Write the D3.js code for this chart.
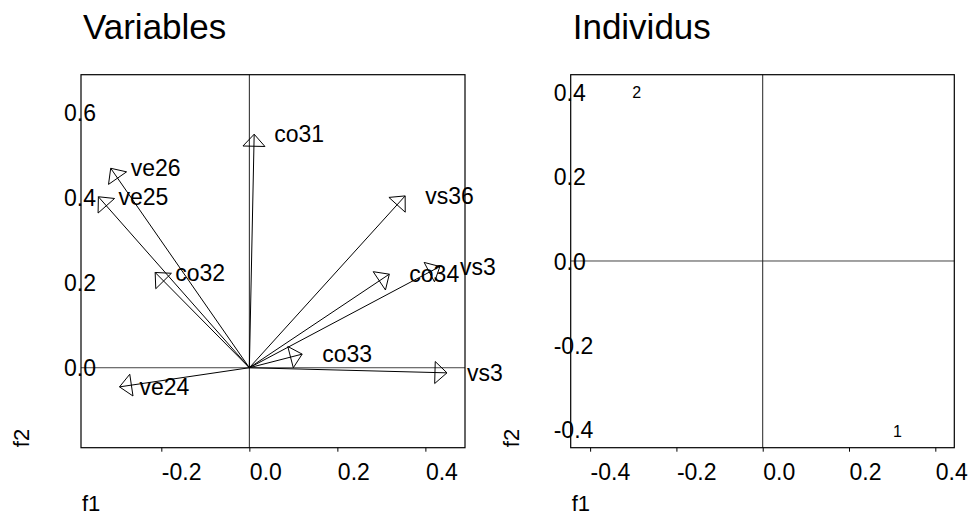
<!DOCTYPE html>
<html>
<head>
<meta charset="utf-8">
<script src="https://cdn.jsdelivr.net/npm/d3@7.9.0/dist/d3.min.js"></script>
<style>
  body { margin: 0; background: #fff; }
  svg text { font-family: "Liberation Sans", Arial, sans-serif; fill: #000; }
</style>
</head>
<body>
<svg width="972" height="516"></svg>
<script>
// variables (arrows): label, f1, f2
const varNames = ["co31", "ve26", "ve25", "co32", "vs36", "co34", "vs3", "co33", "vs3", "ve24"];
const varF1 = [0.011, -0.315, -0.343, -0.214, 0.354, 0.318, 0.433, 0.120, 0.449, -0.295];
const varF2 = [0.549, 0.469, 0.402, 0.224, 0.404, 0.220, 0.238, 0.032, -0.012, -0.045];

// individuals (points)
const indNames = ["1", "2"];
const indF1 = [0.312, -0.292];
const indF2 = [-0.404, 0.40];

// tick labels
const leftXTicks = [-0.2, 0.0, 0.2, 0.4];
const leftYTicks = [0.0, 0.2, 0.4, 0.6];
const rightXTicks = [-0.4, -0.2, 0.0, 0.2, 0.4];
const rightYTicks = [-0.4, -0.2, 0.0, 0.2, 0.4];

const svg = d3.select("svg");
const fmt = d => d.toFixed(1); // plain hyphen minus, like the original

function panel(opts) {
  const x = d3.scaleLinear().domain(opts.xDomain).range([opts.left, opts.right]);
  const y = d3.scaleLinear().domain(opts.yDomain).range([opts.bottom, opts.top]);
  const g = svg.append("g");

  // title
  g.append("text")
    .attr("x", opts.left + 2)
    .attr("y", 39)
    .attr("font-size", 35)
    .text(opts.title);

  // zero lines
  g.append("line")
    .attr("x1", opts.left).attr("x2", opts.right)
    .attr("y1", y(0)).attr("y2", y(0))
    .attr("stroke", "#444").attr("stroke-width", 1);
  g.append("line")
    .attr("x1", x(0)).attr("x2", x(0))
    .attr("y1", opts.top).attr("y2", opts.bottom)
    .attr("stroke", "#222").attr("stroke-width", 1);

  // frame
  g.append("rect")
    .attr("x", opts.left).attr("y", opts.top)
    .attr("width", opts.right - opts.left)
    .attr("height", opts.bottom - opts.top)
    .attr("fill", "none").attr("stroke", "#000").attr("stroke-width", 1.2);

  // x axis
  const xa = g.append("g")
    .attr("transform", `translate(0,${opts.bottom})`)
    .call(d3.axisBottom(x).tickValues(opts.xTicks).tickSize(4).tickFormat(fmt));
  xa.select(".domain").remove();
  xa.selectAll("line").attr("stroke", "#000");
  xa.selectAll("text")
    .attr("text-anchor", "start")
    .attr("y", 32).attr("dy", 0)
    .attr("font-size", 23)
    .attr("font-family", "Liberation Sans, Arial, sans-serif");

  // y axis: labels only, straddling the frame
  const ya = g.append("g")
    .attr("transform", `translate(${opts.left},0)`)
    .call(d3.axisLeft(y).tickValues(opts.yTicks).tickSize(0).tickFormat(fmt));
  ya.select(".domain").remove();
  ya.selectAll("line").remove();
  ya.selectAll("text")
    .attr("text-anchor", "start")
    .attr("x", -17)
    .attr("dy", "0.35em")
    .attr("font-size", 23)
    .attr("font-family", "Liberation Sans, Arial, sans-serif");

  // axis names
  g.append("text")
    .attr("transform", `translate(${opts.left - 52},438) rotate(-90)`)
    .attr("text-anchor", "middle")
    .attr("font-size", 22)
    .text("f2");
  g.append("text")
    .attr("x", opts.left + 1).attr("y", 511)
    .attr("font-size", 22)
    .text("f1");

  return { g, x, y };
}

// left panel: variables
const L = panel({
  title: "Variables",
  left: 81, right: 465, top: 74.7, bottom: 447.7,
  xDomain: [-0.3825, 0.490], yDomain: [-0.188, 0.689],
  xTicks: leftXTicks, yTicks: leftYTicks
});

const headLen = 12, headHalf = 11;
varNames.forEach((name, i) => {
  const x0 = L.x(0), y0 = L.y(0);
  const x1 = L.x(varF1[i]), y1 = L.y(varF2[i]);
  const len = Math.hypot(x1 - x0, y1 - y0);
  const ux = (x1 - x0) / len, uy = (y1 - y0) / len;
  const bx = x1 - ux * headLen, by = y1 - uy * headLen;
  L.g.append("line")
    .attr("x1", x0).attr("y1", y0).attr("x2", x1).attr("y2", y1)
    .attr("stroke", "#000").attr("stroke-width", 1);
  L.g.append("path")
    .attr("d", d3.line()([
      [x1, y1],
      [bx - uy * headHalf, by + ux * headHalf],
      [bx + uy * headHalf, by - ux * headHalf]
    ]) + "Z")
    .attr("fill", "none").attr("stroke", "#000").attr("stroke-width", 1);
  L.g.append("text")
    .attr("x", x1 + 20).attr("y", y1)
    .attr("dy", "0.35em")
    .attr("font-size", 23)
    .text(name);
});

// right panel: individuals
const R = panel({
  title: "Individus",
  left: 570.7, right: 954.3, top: 74.7, bottom: 447.7,
  xDomain: [-0.445, 0.444], yDomain: [-0.4435, 0.4425],
  xTicks: rightXTicks, yTicks: rightYTicks
});

indNames.forEach((name, i) => {
  R.g.append("text")
    .attr("x", R.x(indF1[i])).attr("y", R.y(indF2[i]))
    .attr("text-anchor", "middle")
    .attr("dy", "0.35em")
    .attr("font-size", 16)
    .text(name);
});
</script>
</body>
</html>
